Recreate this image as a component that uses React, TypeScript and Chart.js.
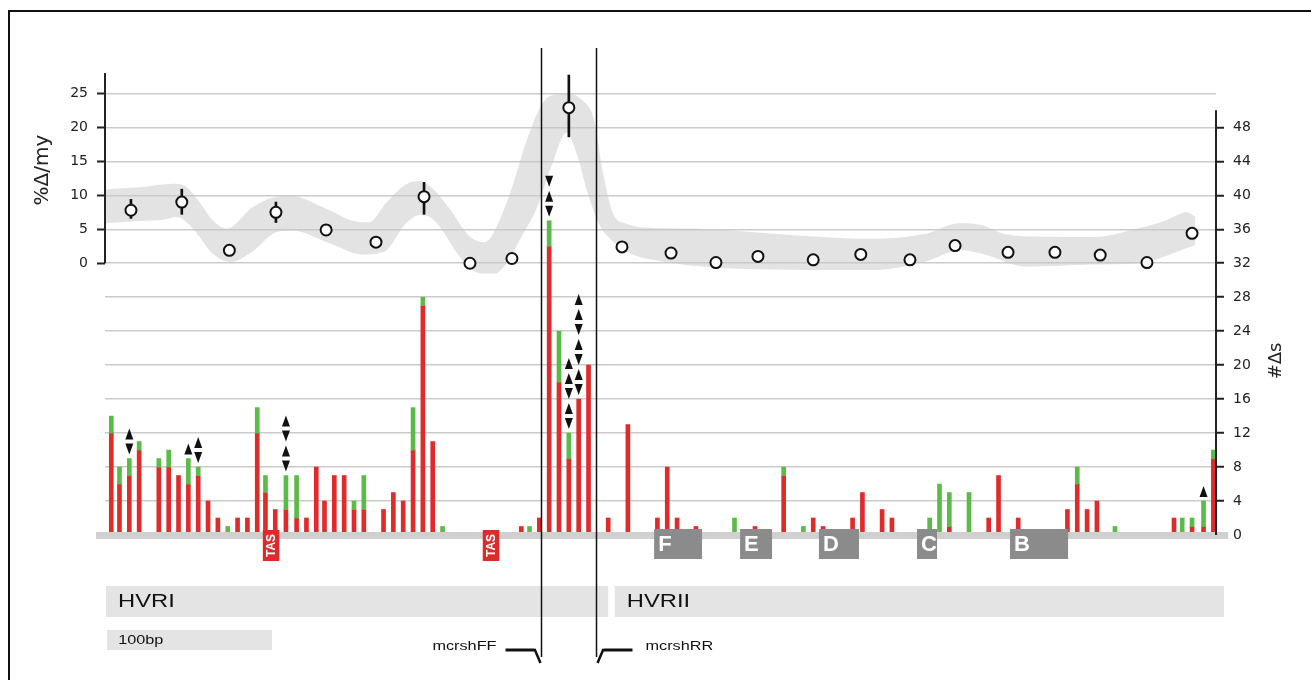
import React, { useEffect, useRef } from 'react';
import { Chart, registerables } from 'chart.js';

Chart.register(...registerables);

// ---- substitution sites (bp position) and counts (#Δs, right axis)
const sitePos = [2, 7, 13, 19, 31, 37, 43, 49, 55, 61, 67, 73, 79, 85, 91, 96, 102, 108.5, 115, 121, 127, 132, 138, 144, 150, 156, 168, 174, 180, 186, 192, 198, 204, 252, 257, 263, 269, 275, 281, 287, 293, 305, 317, 335, 341, 347, 358.5, 382, 394.5, 412, 424, 430, 436, 454, 460, 472, 478, 501, 507, 513, 525, 537, 543, 555, 585, 591, 597, 603, 614, 650, 655, 661, 668, 674];
const redCounts = [12, 6, 7, 10, 8, 8, 7, 6, 7, 4, 2, 0, 2, 2, 12, 5, 3, 3, 2, 2, 8, 4, 7, 7, 3, 3, 3, 5, 4, 10, 27, 11, 0, 1, 0, 2, 34, 18, 9, 16, 20, 2, 13, 2, 8, 2, 1, 0, 1, 7, 0, 2, 1, 2, 5, 3, 2, 0, 0, 1, 0, 2, 7, 2, 3, 6, 3, 4, 0, 2, 0, 1, 1, 9];
const greenCounts = [2, 2, 2, 1, 1, 2, 0, 3, 1, 0, 0, 1, 0, 0, 3, 2, 0, 4, 5, 0, 0, 0, 0, 0, 1, 4, 0, 0, 0, 5, 1, 0, 1, 0, 1, 0, 3, 6, 3, 0, 0, 0, 0, 0, 0, 0, 0, 2, 0, 1, 1, 0, 0, 0, 0, 0, 0, 2, 6, 4, 5, 0, 0, 0, 0, 2, 0, 0, 1, 0, 2, 1, 3, 1];

// arrow marks above some sites (top -> bottom)
const arrowSites = [13, 49, 55, 108.5, 269, 281, 287, 668];
const arrowMarks = ['^v', '^', '^v', '^v^v', 'v^v', '^^v^v', '^^v^v^v', '^'];

// ---- rate estimates (%Δ/my, left axis)
const ratePos = [14, 45, 74, 102.4, 133, 163.4, 192.7, 220.7, 246.3, 281, 313.4, 343.3, 370.7, 396.3, 430, 459, 489, 516.5, 548.8, 577.4, 605, 633.5, 661];
const rateVal = [7.8, 9.0, 1.9, 7.5, 4.9, 3.1, 9.8, 0.0, 0.7, 22.9, 2.4, 1.5, 0.1, 1.0, 0.5, 1.3, 0.5, 2.6, 1.6, 1.6, 1.2, 0.1, 4.4];
const errPos = [14, 45, 102.4, 192.7, 281];
const errLow = [6.6, 7.2, 6.0, 7.2, 18.6];
const errHigh = [9.4, 10.9, 9.0, 11.9, 27.7];

// ---- smoothed confidence band (left axis)
const bandUpperPos = [-1.4, 20, 40, 48, 55.2, 63.9, 72.6, 87.9, 103, 112, 131.5, 150, 158.7, 170.7, 181.5, 190, 198, 207.7, 220.7, 229.5, 234, 245, 255.5, 263.4, 269.5, 280, 290, 296, 302, 308, 316.3, 324.4, 356.9, 420, 465.3, 497.8, 519.5, 533, 546.6, 570, 600.8, 627.9, 645, 657.7, 663];
const bandUpperVal = [10.9, 11.2, 11.7, 11.2, 9.2, 6.3, 5.1, 8.2, 9.8, 9.9, 8.2, 6.2, 6.0, 9.2, 11.6, 12.1, 11.0, 8.2, 3.9, 3.1, 4.0, 10.2, 18.2, 22.9, 24.6, 25.0, 23.8, 21.4, 13.1, 7.3, 5.8, 5.3, 5.1, 4.1, 3.6, 4.3, 5.9, 5.6, 4.3, 3.9, 3.85, 5.1, 6.3, 7.5, 6.8];
const bandLowerPos = [-1.4, 20, 33.5, 42, 51, 64, 74.8, 87.9, 103, 112, 133.6, 155.4, 168.5, 181.5, 190.2, 199, 216.4, 227.3, 236, 243, 251, 261.6, 270, 279.7, 286, 292, 300, 308, 319, 340, 384, 465.3, 497.8, 519.5, 533, 560.2, 600, 627.9, 663];
const bandLowerVal = [5.9, 6.2, 6.4, 6.8, 5.3, 1.4, 0.2, 1.7, 4.6, 4.8, 3.1, 1.3, 1.7, 5.8, 7.1, 6.3, 0.4, -1.5, -1.5, 0, 3.4, 8.2, 14, 19.2, 16, 10.7, 5.5, 3.2, 1.4, 0.2, -0.8, -1.0, 0.2, 1.9, 1.4, -0.5, -0.2, 0, 2.7];

// ---- tick labels
const leftTicks = [0, 5, 10, 15, 20, 25];
const rightTicks = [0, 4, 8, 12, 16, 20, 24, 28, 32, 36, 40, 44, 48];

// ---- annotations along the sequence (bp)
const regionLabels = ['F', 'E', 'D', 'C', 'B'];
const regionStart = [333, 385.4, 433.5, 493.3, 550];
const regionEnd = [362.2, 404.9, 457.9, 505.5, 585.4];
const tasStart = [94.4, 228.5];
const tasEnd = [104.5, 238.6];
const hvrLabels = ['HVRI', 'HVRII'];
const hvrStart = [-1.2, 309];
const hvrEnd = [305, 680.5];
const scaleBarLabel = '100bp';
const scaleBarStart = -0.5;
const scaleBarEnd = 100;
const primerLabels = ['mcrshFF', 'mcrshRR'];
const primerPos = [264, 297.6];
const baselineStart = -7.3;
const baselineEnd = 683;

const X_MIN = -1.83;
const X_MAX = 675.6;
const R_MAX = 54.4;
const L_MIN = -40;
const L_MAX = (R_MAX - 32) * 1.25;

const RED = '#e12a2a';
const GREEN = '#5abb46';

function sText(ctx: any, text: string, x: number, y: number, align: string, font: string, color: string, sx = 1.25) {
  ctx.save();
  ctx.translate(x, y);
  ctx.scale(sx, 1);
  ctx.font = font;
  ctx.textAlign = align;
  ctx.textBaseline = 'middle';
  ctx.fillStyle = color;
  ctx.fillText(text, 0, 0);
  ctx.restore();
}

const overlay = {
  id: 'overlay',
  afterDatasetsDraw(chart: any) {
    const { ctx, chartArea, scales } = chart;
    const x = scales.x;
    const yR = scales.y;
    const yL = scales.yl;
    const base = yR.getPixelForValue(0);
    ctx.save();

    // baseline
    ctx.fillStyle = '#d0d0d0';
    const bx0 = x.getPixelForValue(baselineStart);
    const bx1 = x.getPixelForValue(baselineEnd);
    ctx.fillRect(bx0, base - 3, bx1 - bx0, 7);

    // TAS boxes
    tasStart.forEach((s, i) => {
      const x0 = x.getPixelForValue(s);
      const x1 = x.getPixelForValue(tasEnd[i]);
      ctx.fillStyle = '#dd2a2a';
      ctx.fillRect(x0, base - 5, x1 - x0, 31);
      ctx.save();
      ctx.translate((x0 + x1) / 2 + 0.5, base + 10.5);
      ctx.rotate(-Math.PI / 2);
      ctx.font = 'bold 12px "Liberation Sans"';
      ctx.fillStyle = '#fff';
      ctx.textAlign = 'center';
      ctx.textBaseline = 'middle';
      ctx.fillText('TAS', 0, 0);
      ctx.restore();
    });

    // conserved blocks
    regionLabels.forEach((lab, i) => {
      const x0 = x.getPixelForValue(regionStart[i]);
      const x1 = x.getPixelForValue(regionEnd[i]);
      ctx.fillStyle = '#8b8b8b';
      ctx.fillRect(x0, base - 6, x1 - x0, 30);
      ctx.font = 'bold 22px "Liberation Sans"';
      ctx.fillStyle = '#fff';
      ctx.textAlign = 'left';
      ctx.textBaseline = 'middle';
      ctx.fillText(lab, x0 + 4, base + 10);
    });

    // arrows
    ctx.fillStyle = '#111';
    arrowSites.forEach((p, i) => {
      const idx = sitePos.indexOf(p);
      const top = yR.getPixelForValue(redCounts[idx] + greenCounts[idx]);
      const cx = x.getPixelForValue(p);
      const marks = arrowMarks[i];
      let bottom = top - 4;
      for (let k = marks.length - 1; k >= 0; k--) {
        const t = bottom - 11;
        ctx.beginPath();
        if (marks[k] === '^') {
          ctx.moveTo(cx, t);
          ctx.lineTo(cx + 4, bottom);
          ctx.lineTo(cx - 4, bottom);
        } else {
          ctx.moveTo(cx - 4, t);
          ctx.lineTo(cx + 4, t);
          ctx.lineTo(cx, bottom);
        }
        ctx.closePath();
        ctx.fill();
        bottom -= 15;
      }
    });

    // HVR boxes
    hvrLabels.forEach((lab, i) => {
      const x0 = x.getPixelForValue(hvrStart[i]);
      const x1 = x.getPixelForValue(hvrEnd[i]);
      ctx.fillStyle = '#e4e4e4';
      ctx.fillRect(x0, 586, x1 - x0, 31);
      sText(ctx, lab, x0 + 12, 602, 'left', '19px "Liberation Sans"', '#111');
    });

    // scale bar
    {
      const x0 = x.getPixelForValue(scaleBarStart);
      const x1 = x.getPixelForValue(scaleBarEnd);
      ctx.fillStyle = '#e4e4e4';
      ctx.fillRect(x0, 630, x1 - x0, 20);
      sText(ctx, scaleBarLabel, x0 + 11, 640, 'left', '13px "Liberation Sans"', '#111');
    }

    // primer lines & marks
    primerPos.forEach((p, i) => {
      const px = Math.round(x.getPixelForValue(p)) + 0.5;
      ctx.strokeStyle = '#111';
      ctx.lineWidth = 1.5;
      ctx.beginPath();
      ctx.moveTo(px, 48);
      ctx.lineTo(px, 657);
      ctx.stroke();
      const dir = i === 0 ? -1 : 1;
      ctx.lineWidth = 3;
      ctx.beginPath();
      ctx.moveTo(px + dir * 36, 650);
      ctx.lineTo(px + dir * 7, 650);
      ctx.stroke();
      ctx.lineWidth = 2.5;
      ctx.beginPath();
      ctx.moveTo(px + dir * 7, 649);
      ctx.lineTo(px + dir * 7 - dir * 6, 663);
      ctx.stroke();
      if (i === 0) sText(ctx, primerLabels[i], px - 45, 646, 'right', '13px "Liberation Sans"', '#111');
      else sText(ctx, primerLabels[i], px + 49, 646, 'left', '13px "Liberation Sans"', '#111');
    });

    // axis lines
    ctx.strokeStyle = '#222';
    ctx.lineWidth = 2;
    ctx.beginPath();
    ctx.moveTo(chartArea.left, chartArea.top);
    ctx.lineTo(chartArea.left, yL.getPixelForValue(0));
    ctx.stroke();
    ctx.beginPath();
    ctx.moveTo(chartArea.right, yR.getPixelForValue(50));
    ctx.lineTo(chartArea.right, base);
    ctx.stroke();

    // axis titles
    ctx.fillStyle = '#222';
    ctx.font = '20px "DejaVu Sans"';
    ctx.textAlign = 'center';
    ctx.textBaseline = 'middle';
    ctx.save();
    ctx.translate(43, yL.getPixelForValue(13.7));
    ctx.rotate(-Math.PI / 2);
    ctx.fillText('%Δ/my', 0, 0);
    ctx.restore();
    ctx.save();
    ctx.font = '18px "DejaVu Sans"';
    ctx.translate(1276, yR.getPixelForValue(20.5));
    ctx.rotate(-Math.PI / 2);
    ctx.fillText('#Δs', 0, 0);
    ctx.restore();

    // frame
    ctx.strokeStyle = '#111';
    ctx.lineWidth = 2;
    ctx.strokeRect(9, 11, 1400, 800);
    ctx.restore();
  },
};

export default function App() {
  const ref = useRef<HTMLCanvasElement>(null);
  useEffect(() => {
    if (!ref.current) return;
    const redData = sitePos
      .map((p, i) => ({ x: p, y: redCounts[i] }))
      .filter((d) => d.y > 0);
    const greenData = sitePos
      .map((p, i) => ({ x: p, y: [redCounts[i], redCounts[i] + greenCounts[i]] }))
      .filter((d, i) => greenCounts[i] > 0);
    const chart = new Chart(ref.current, {
      type: 'bar',
      data: {
        datasets: [
          {
            type: 'line',
            data: ratePos.map((p, i) => ({ x: p, y: rateVal[i] })),
            yAxisID: 'yl',
            showLine: false,
            pointRadius: 5.5,
            pointBorderWidth: 2,
            pointBackgroundColor: '#fff',
            pointBorderColor: '#111',
            clip: false,
          } as any,
          {
            type: 'bar',
            data: errPos.map((p, i) => ({ x: p, y: [errLow[i], errHigh[i]] })),
            yAxisID: 'yl',
            backgroundColor: '#111',
            barThickness: 2,
            grouped: false,
          } as any,
          {
            type: 'bar',
            data: greenData,
            yAxisID: 'y',
            backgroundColor: GREEN,
            barThickness: 4,
            grouped: false,
          } as any,
          {
            type: 'bar',
            data: redData,
            yAxisID: 'y',
            backgroundColor: RED,
            barThickness: 4,
            grouped: false,
          } as any,
          {
            type: 'line',
            data: bandUpperPos.map((p, i) => ({ x: p, y: bandUpperVal[i] })),
            yAxisID: 'yl',
            pointRadius: 0,
            borderWidth: 0,
            borderColor: 'rgba(0,0,0,0)',
            backgroundColor: 'rgba(200,200,200,0.5)',
            cubicInterpolationMode: 'monotone',
            fill: '+1',
          } as any,
          {
            type: 'line',
            data: bandLowerPos.map((p, i) => ({ x: p, y: bandLowerVal[i] })),
            yAxisID: 'yl',
            pointRadius: 0,
            borderWidth: 0,
            borderColor: 'rgba(0,0,0,0)',
            cubicInterpolationMode: 'monotone',
            fill: false,
          } as any,
        ],
      },
      options: {
        animation: false,
        responsive: false,
        devicePixelRatio: 1,
        events: [],
        layout: { padding: { left: 20, right: 0, top: 73, bottom: 145 }, autoPadding: false },
        plugins: { legend: { display: false }, tooltip: { enabled: false } },
        scales: {
          x: { type: 'linear', min: X_MIN, max: X_MAX, display: false, offset: false, grid: { offset: false } },
          yl: {
            position: 'left',
            min: L_MIN,
            max: L_MAX,
            border: { display: false },
            afterFit: (s: any) => { s.width = 85; },
            grid: {
              drawOnChartArea: false,
              drawTicks: true,
              tickLength: 8,
              tickWidth: 2,
              tickColor: (c: any) => (c.tick && leftTicks.includes(c.tick.value) ? '#222' : 'rgba(0,0,0,0)'),
            },
            ticks: {
              stepSize: 5,
              autoSkip: false,
              padding: 9,
              color: '#222',
              font: { family: 'DejaVu Sans', size: 14 },
              callback: (v: any) => (leftTicks.includes(v) ? String(v) : ''),
            },
          },
          y: {
            position: 'right',
            min: 0,
            max: R_MAX,
            border: { display: false },
            afterFit: (s: any) => { s.width = 95; },
            grid: {
              drawOnChartArea: true,
              drawTicks: true,
              tickLength: 8,
              tickWidth: 2,
              lineWidth: 1.5,
              color: (c: any) => {
                const v = c.tick ? c.tick.value : -1;
                return v > 0 && v <= 52 && v % 4 === 0 ? '#cbcbcb' : 'rgba(0,0,0,0)';
              },
              tickColor: (c: any) => (c.tick && rightTicks.includes(c.tick.value) ? '#222' : 'rgba(0,0,0,0)'),
            },
            ticks: {
              stepSize: 4,
              autoSkip: false,
              padding: 9,
              color: '#222',
              font: { family: 'DejaVu Sans', size: 14 },
              callback: (v: any) => (rightTicks.includes(v) ? String(v) : ''),
            },
          },
        },
      } as any,
      plugins: [overlay],
    });
    return () => chart.destroy();
  }, []);
  return (
    <div style={{ position: 'fixed', left: 0, top: 0, width: 1311, height: 680, background: '#fff' }}>
      <canvas ref={ref} width={1311} height={680} style={{ display: 'block', width: 1311, height: 680 }} />
    </div>
  );
}
